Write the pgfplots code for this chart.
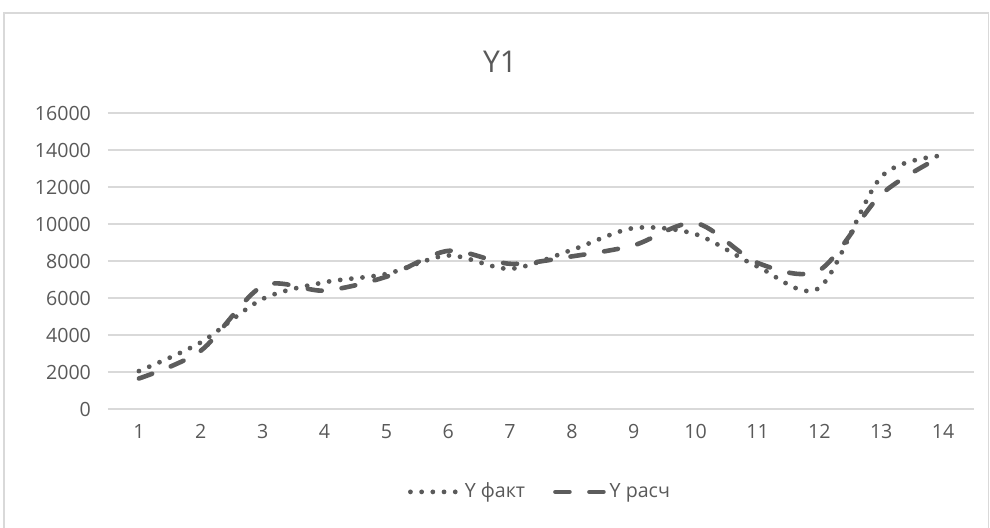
\documentclass[border=0pt]{standalone}
\usepackage{pgfplots}
\pgfplotsset{compat=1.18}
\usepackage{fontspec}
\setmainfont{Open Sans}
\definecolor{gridc}{HTML}{D9D9D9}
\definecolor{txt}{HTML}{595959}
\definecolor{fact}{HTML}{5A5A5A}
\definecolor{calc}{HTML}{5C5C5C}
\begin{document}
\begin{tikzpicture}
\useasboundingbox (0,0) rectangle (495pt,263.5pt);
\draw[gridc, line width=0.8pt] (2pt,-2pt) rectangle (494.3pt,257pt);
\node[txt, font=\fontsize{15}{18}\selectfont] at (250pt,232.5pt) {Y1};
\begin{axis}[
  at={(54pt,59pt)}, anchor=south west,
  scale only axis, width=433pt, height=148pt,
  xmin=0.5, xmax=14.5, ymin=0, ymax=16000,
  xtick={1,...,14}, ytick={0,2000,...,16000},
  scaled y ticks=false,
  axis line style={draw=none},
  major tick length=0pt,
  ymajorgrids, grid style={gridc, line width=0.8pt},
  tick label style={txt, font=\fontsize{9.8}{11}\selectfont},
  /pgf/number format/assume math mode=true,
  /pgf/number format/1000 sep={},
  yticklabel style={xshift=-5pt},
  xticklabel style={yshift=-4pt},
  legend columns=2,
  legend style={at={(axis description cs:0.5,-0.28)}, anchor=center, draw=none,
    font=\fontsize{9.8}{11}\selectfont, text=txt,
    /tikz/every even column/.append style={column sep=12pt}},
  legend image code/.code={\draw[#1] (0pt,0pt) -- (24pt,0pt);},
]
\addplot[fact, line width=2.4pt, line cap=round, dash pattern=on 0pt off 5.6pt, smooth]
coordinates {(1,2050) (2,3600) (3,5950) (4,6850) (5,7300) (6,8300) (7,7580) (8,8600) (9,9780) (10,9450) (11,7700) (12,6550) (13,12550) (14,13700)};
\addlegendentry{Y факт}
\addplot[calc, line width=2.3pt, line cap=round, dash pattern=on 7pt off 10pt, smooth]
coordinates {(1,1650) (2,3150) (3,6650) (4,6400) (5,7150) (6,8550) (7,7850) (8,8250) (9,8850) (10,10050) (11,7900) (12,7500) (13,11600) (14,13700)};
\addlegendentry{Y расч}
\end{axis}
\end{tikzpicture}
\end{document}
